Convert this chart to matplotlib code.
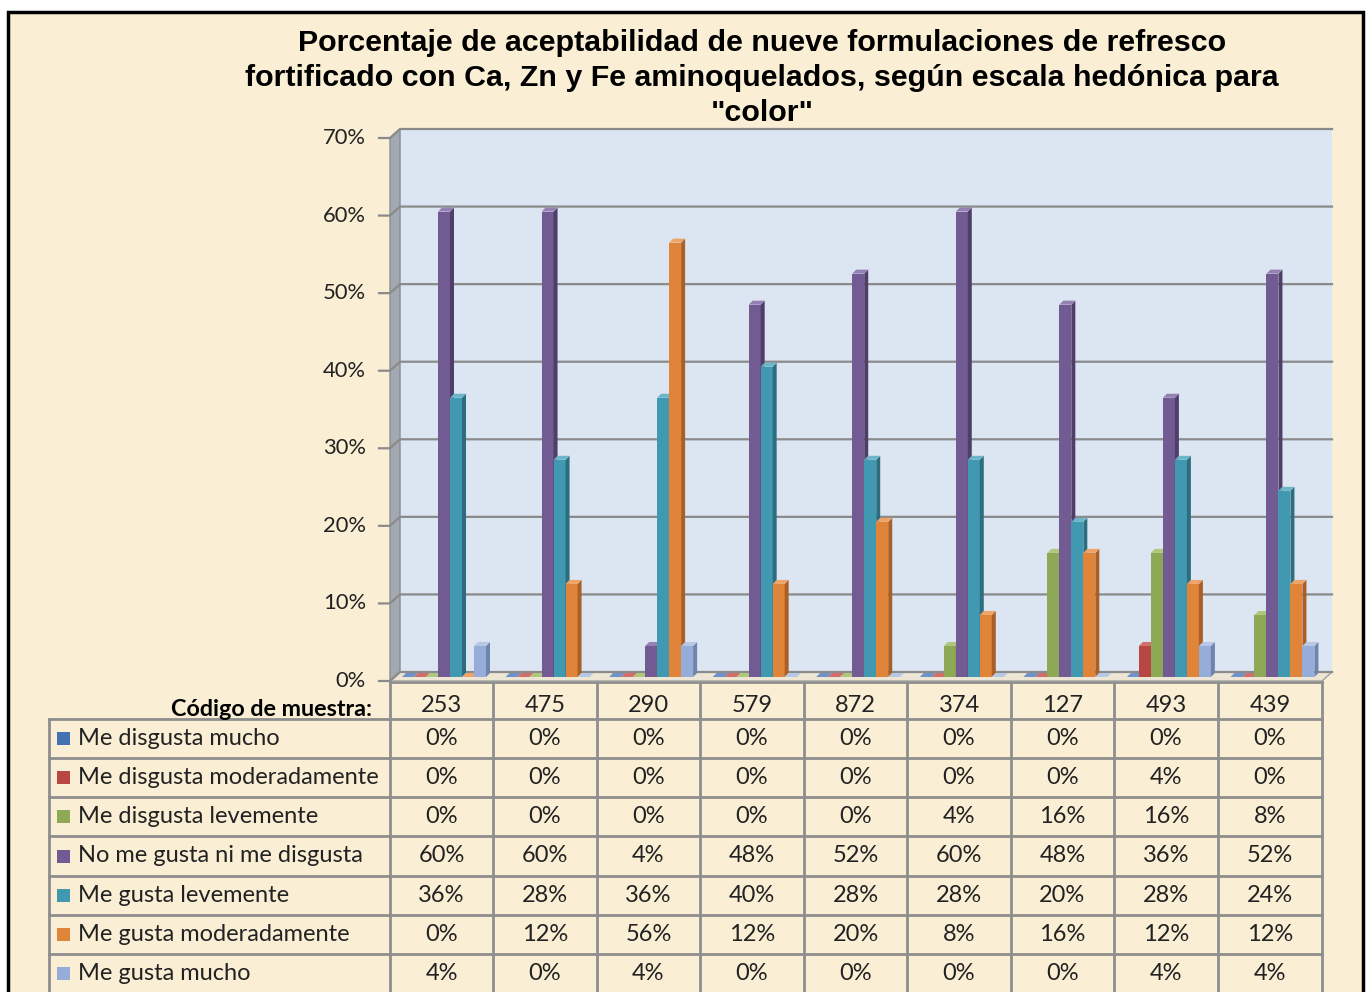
import matplotlib
matplotlib.use("Agg")
import matplotlib.pyplot as plt
from matplotlib.patches import Rectangle, Polygon

# data (porcentajes)
codes = ['253', '475', '290', '579', '872', '374', '127', '493', '439']
series = ['Me disgusta mucho', 'Me disgusta moderadamente', 'Me disgusta levemente',
          'No me gusta ni me disgusta', 'Me gusta levemente', 'Me gusta moderadamente',
          'Me gusta mucho']
disg_mucho = [0, 0, 0, 0, 0, 0, 0, 0, 0]
disg_mod = [0, 0, 0, 0, 0, 0, 0, 4, 0]
disg_lev = [0, 0, 0, 0, 0, 4, 16, 16, 8]
ni_ni = [60, 60, 4, 48, 52, 60, 48, 36, 52]
gusta_lev = [36, 28, 36, 40, 28, 28, 20, 28, 24]
gusta_mod = [0, 12, 56, 12, 20, 8, 16, 12, 12]
gusta_mucho = [4, 0, 4, 0, 0, 0, 0, 4, 4]
values = [disg_mucho, disg_mod, disg_lev, ni_ni, gusta_lev, gusta_mod, gusta_mucho]
yticks = [0, 10, 20, 30, 40, 50, 60, 70]

# front, side, top
colors = [('#4472B0', '#2F5385', '#6F93C8'),
          ('#B84744', '#8A3331', '#D06E6B'),
          ('#8DA956', '#6A8240', '#AFC77D'),
          ('#725A93', '#4F3E69', '#9480B1'),
          ('#4199B1', '#2C6E80', '#6DB6CA'),
          ('#E0843A', '#A95F25', '#EEA468'),
          ('#95ADD8', '#6E84AD', '#B6C8E6')]

W, H = 1368, 992
fig = plt.figure(figsize=(W / 100, H / 100), dpi=100, facecolor='white')

# background layer in pixel coords
bg = fig.add_axes([0, 0, 1, 1])
bg.set_xlim(0, W)
bg.set_ylim(H, 0)
bg.axis('off')
bg.add_patch(Rectangle((8, 12), 1355, 1000, fc='#FAEFD5', ec='black', lw=2.5))

title = ('Porcentaje de aceptabilidad de nueve formulaciones de refresco\n'
         'fortificado con Ca, Zn y Fe aminoquelados, según escala hedónica para\n'
         '"color"')
bg.text(762, 78, title, ha='center', va='center', fontsize=21.9, fontweight='bold',
        family='Liberation Sans', linespacing=1.3)

# chart area
X0, X1, Y0, Y7 = 390, 1322, 681, 138
ax = fig.add_axes([X0 / W, 1 - Y0 / H, (X1 - X0) / W, (Y0 - Y7) / H])
ax.set_xlim(-0.5, 8.5)
ax.set_ylim(0, 70)
ax.axis('off')
ux = 9 / (X1 - X0)
uy = 70 / (Y0 - Y7)
BX, BY = 10, 9  # back wall offset px

# back wall, side wall, floor
ax.add_patch(Rectangle((-0.5 + BX * ux, BY * uy), 9, 70, fc='#DCE6F2', ec='none', zorder=1,
                       clip_on=False))
ax.add_patch(Polygon([(-0.5, 0), (-0.5 + BX * ux, BY * uy), (-0.5 + BX * ux, 70 + BY * uy), (-0.5, 70)],
                     fc='#A3A9B2', ec='#8C8C8C', lw=1, zorder=1, clip_on=False))
ax.add_patch(Polygon([(-0.5, 0), (8.5, 0), (8.5 + BX * ux, BY * uy), (-0.5 + BX * ux, BY * uy)],
                     fc='#EEE6D4', ec='#A0A0A0', lw=1, zorder=1, clip_on=False))
for v in yticks:
    ax.plot([-0.5 - 11 * ux, -0.5, -0.5 + BX * ux, 8.5 + BX * ux],
            [v, v, v + BY * uy, v + BY * uy], color='#8A8A8A', lw=1.6, zorder=2, clip_on=False)
    ax.text(-0.5 - 24 * ux, v, f'{v}%', ha='right', va='center', fontsize=15.8,
            family='Lato', color='#222222')

# 3d-looking bars
BW, PAD, BO, D = 12, 12, 4, 4
z = 3
for k, vals in enumerate(values):
    fc, sc, tc = colors[k]
    for i, v in enumerate(vals):
        left = i - 0.5 + (PAD + k * BW) * ux
        w = BW * ux
        b = BO * uy
        dx, dy = D * ux, D * uy
        zz = z + k * 3
        if v > 0:
            ax.add_patch(Rectangle((left, b), w, v, fc=fc, ec='none', zorder=zz))
            ax.add_patch(Polygon([(left + w, b), (left + w + dx, b + dy), (left + w + dx, b + v + dy),
                                  (left + w, b + v)], fc=sc, ec='none', zorder=zz + 1))
        ax.add_patch(Polygon([(left, b + v), (left + w, b + v), (left + w + dx, b + v + dy),
                              (left + dx, b + v + dy)], fc=tc, ec='none', zorder=zz + 2))

# data table
cols = [390, 493, 597, 700, 804, 907, 1011, 1114, 1218, 1322]
rows = [719, 758, 797, 836, 876, 915, 954, 993]
lc, lw = '#8E8E8E', 2
bg.plot([cols[0], cols[-1]], [682, 682], color=lc, lw=lw)
for x in cols:
    bg.plot([x, x], [682, 1000], color=lc, lw=lw)
bg.plot([49, 49], [rows[0], 1000], color=lc, lw=lw)
for y in rows:
    bg.plot([49, cols[-1]], [y, y], color=lc, lw=lw)

bg.text(372, 710, 'Código de muestra:', ha='right', va='center', fontsize=16.8,
        fontweight='bold', family='Lato', color='black')
for j, c in enumerate(codes):
    bg.text((cols[j] + cols[j + 1]) / 2, 705, c, ha='center', va='center',
            fontsize=17, family='Lato', color='#222222')

for k, name in enumerate(series):
    yc = (rows[k] + rows[k + 1]) / 2
    bg.add_patch(Rectangle((57, yc - 6.5), 13, 13, fc=colors[k][0], ec='none'))
    bg.text(78, yc, name, ha='left', va='center', fontsize=17, family='Lato', color='#222222')
    for j, v in enumerate(values[k]):
        bg.text((cols[j] + cols[j + 1]) / 2, yc, f'{v}%', ha='center', va='center',
                fontsize=17, family='Lato', color='#222222')

fig.savefig('out.png', dpi=100, facecolor='white')
